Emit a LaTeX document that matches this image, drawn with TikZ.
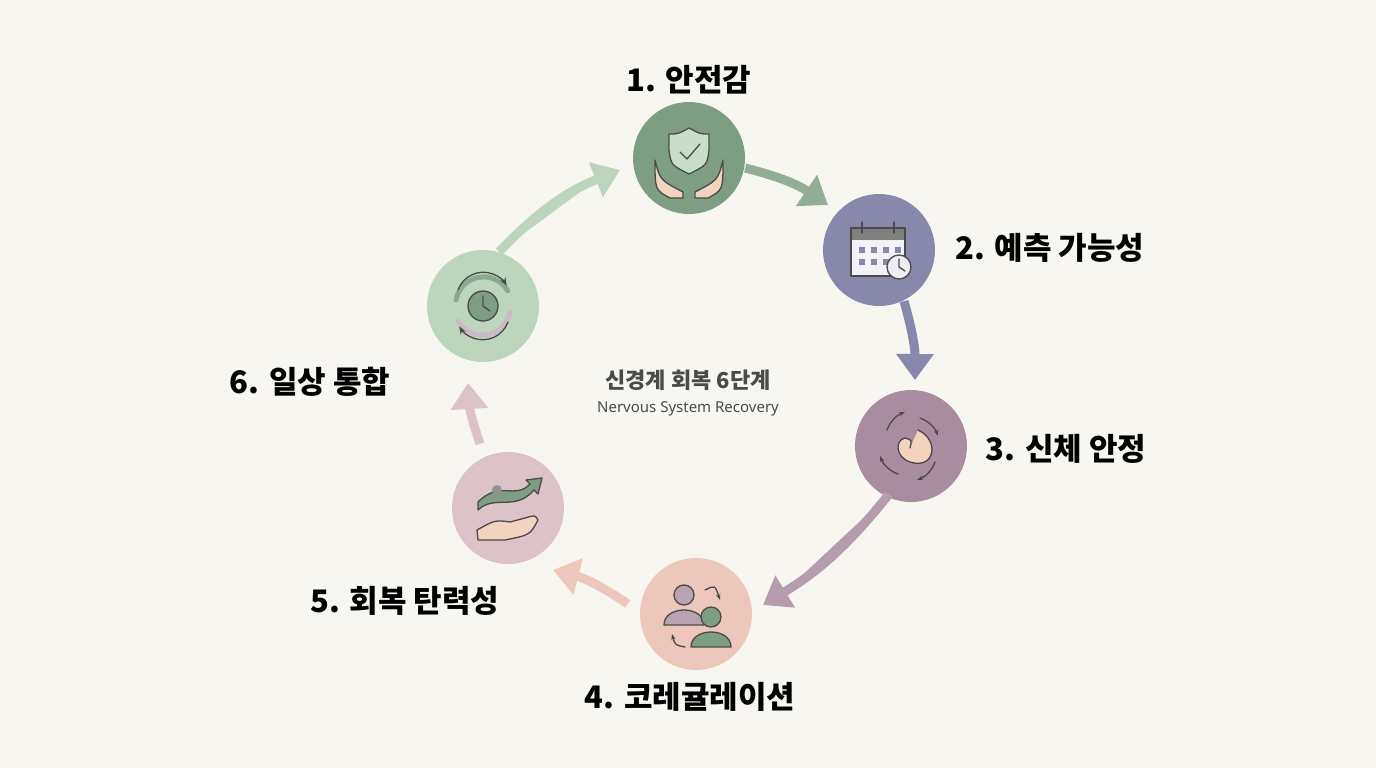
\documentclass[tikz,border=0pt]{standalone}
\usepackage{fontspec}
\setmainfont{Noto Sans}
\newfontfamily\kr{Noto Sans CJK KR}
\usetikzlibrary{arrows.meta}
\definecolor{bg}{HTML}{F7F6F0}
\definecolor{cA}{HTML}{7E9E84}
\definecolor{cB}{HTML}{8887AC}
\definecolor{cC}{HTML}{A88C9F}
\definecolor{cD}{HTML}{EDC6BC}
\definecolor{cE}{HTML}{DBC3C8}
\definecolor{cF}{HTML}{BDD5BC}
\definecolor{ink}{HTML}{4A4A4A}
\definecolor{skin}{HTML}{F2D3BE}
\tikzset{
 stage/.style={circle,minimum size=112pt,inner sep=0pt},
 lbl/.style={font=\kr\fontsize{31}{34}\selectfont\bfseries,text=black},
 flow/.style={line width=9pt,-{Triangle[length=26pt,width=36pt]}},
 ic/.style={draw=ink,line width=1.3pt,line cap=round,line join=round}
}
\begin{document}
\begin{tikzpicture}[x=1pt,y=-1pt]
\fill[bg] (0,0) rectangle (1376,768);
\useasboundingbox (0,0) rectangle (1376,768);
\node[stage,fill=cA] (s1) at (689,158) {};
\node[stage,fill=cB] (s2) at (879,250) {};
\node[stage,fill=cC] (s3) at (911,446) {};
\node[stage,fill=cD] (s4) at (696,614) {};
\node[stage,fill=cE] (s5) at (508,508) {};
\node[stage,fill=cF] (s6) at (483,306) {};
\node[lbl] (l1) at (689,80) {1. 안전감};
\node[lbl] (l2) at (1050,248) {2. 예측 가능성};
\node[lbl] (l3) at (1066,449) {3. 신체 안정};
\node[lbl] (l4) at (690,697) {4. 코레귤레이션};
\node[lbl] (l5) at (405,601) {5. 회복 탄력성};
\node[lbl] (l6) at (310,382) {6. 일상 통합};
\node[font=\kr\fontsize{22}{24}\selectfont\bfseries,text=ink] (t1) at (688,380) {신경계 회복 6단계};
\node[font=\fontsize{15}{17}\selectfont,text=ink] (t2) at (688,409) {Nervous System Recovery};
% arrows
\draw[flow,draw=cA!85,fill=cA!85] (s1.east)++(0,10) to[bend left=10] (828,205);
\draw[flow,draw=cB,fill=cB] (s2.south)++(25,-5) to[bend left=8] (915,380);
\draw[flow,draw=cC!85,fill=cC!85] (s3.south)++(-22,-8) to[bend left=10] (763,605);
\draw[flow,draw=cD,fill=cD] (s4.west)++(-12,-10) to[bend left=-10] (553,570);
\draw[flow,draw=cE,fill=cE] (s5.north)++(-28,-8) to[bend left=8] (468,383);
\draw[flow,draw=cF,fill=cF] (s6.north)++(16,2) to[bend left=12] (620,170);
% icon 1: shield + hands
\fill[cF!80] (689,128) .. controls (700,134) .. (709,134) -- (709,150) .. controls (707,165) .. (689,174) .. controls (671,165) .. (669,150) -- (669,134) .. controls (678,134) .. (689,128);
\draw[ic] (689,128) .. controls (700,134) .. (709,134) -- (709,150) .. controls (707,165) .. (689,174) .. controls (671,165) .. (669,150) -- (669,134) .. controls (678,134) .. (689,128);
\draw[ic] (680,152) -- (687,159) -- (700,144);
\draw[ic,fill=skin] (655,160) .. controls (660,180) .. (683,192) -- (683,198) -- (670,198) .. controls (655,190) .. (655,160);
\draw[ic,fill=skin] (723,160) .. controls (718,180) .. (695,192) -- (695,198) -- (708,198) .. controls (723,190) .. (723,160);
% icon 2: calendar + clock
\draw[ic,fill=white!90!cB] (851,228) rectangle (905,276);
\fill[ink!70] (852,229) rectangle (904,240);
\draw[ic] (862,222) -- (862,233) (894,222) -- (894,233);
\foreach \x in {862,874,886} \foreach \y in {250,262} \fill[cB] (\x-3,\y-3) rectangle (\x+3,\y+3);
\fill[cB] (895,247) rectangle (901,253);
\draw[ic,fill=white!85!cB] (899,267) circle (12);
\draw[ic] (899,259) -- (899,267) -- (905,271);
% icon 3: embryo with cycle
\draw[ic,fill=skin] (918,430) .. controls (940,440) and (935,470) .. (910,462) .. controls (895,457) and (895,440) .. (905,438) .. controls (912,440) .. (910,448);
\draw[ic,-{Stealth[length=6pt]}] (887,430) arc (200:250:30);
\draw[ic,-{Stealth[length=6pt]}] (935,462) arc (20:70:30);
\draw[ic,-{Stealth[length=6pt]}] (920,418) arc (-70:-20:30);
\draw[ic,-{Stealth[length=6pt]}] (898,474) arc (110:160:30);
% icon 4: two people
\draw[ic,fill=cC!80] (684,595) circle (10);
\draw[ic,fill=cC!80] (664,625) .. controls (664,605) and (704,605) .. (704,625) -- cycle;
\draw[ic,fill=cA] (711,617) circle (10);
\draw[ic,fill=cA] (691,647) .. controls (691,627) and (731,627) .. (731,647) -- cycle;
\draw[ic,-{Stealth[length=6pt]}] (705,590) .. controls (715,585) .. (720,600);
\draw[ic,-{Stealth[length=6pt]}] (685,647) .. controls (675,645) .. (672,634);
% icon 5: hand + arrow
\fill[cA] (478,502) .. controls (500,480) and (515,500) .. (530,484) -- (526,480) -- (542,478) -- (538,494) -- (534,490) .. controls (515,512) and (495,494) .. (478,510) -- cycle;
\draw[ic] (478,502) .. controls (500,480) and (515,500) .. (530,484) -- (526,480) -- (542,478) -- (538,494) -- (534,490) .. controls (515,512) and (495,494) .. (478,510) -- cycle;
\fill[ink!60] (497,490) circle (5);
\draw[ic,fill=skin] (477,530) .. controls (495,520) .. (510,522) -- (525,518) .. controls (535,515) .. (538,520) .. controls (530,535) .. (505,540) -- (478,540) -- cycle;
% icon 6: cycle arrows + clock
\draw[ic,fill=cA] (483,306) circle (15);
\draw[ic] (483,296) -- (483,306) -- (490,311);
\draw[ic,line width=5pt,draw=cA!90] (456,300) arc (190:330:28) ;
\draw[ic,line width=5pt,draw=cC!60] (510,312) arc (10:150:28);
\draw[ic,-{Stealth[length=8pt]}] (458,290) arc (200:330:27);
\draw[ic,-{Stealth[length=8pt]}] (508,322) arc (20:150:27);
\end{tikzpicture}
\end{document}
